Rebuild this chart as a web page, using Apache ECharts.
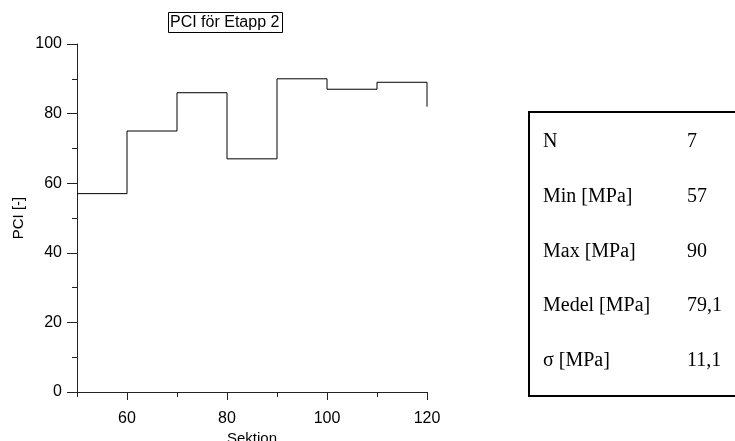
<!DOCTYPE html>
<html>
<head>
<meta charset="utf-8">
<script src="https://cdn.jsdelivr.net/npm/echarts@6/dist/echarts.min.js"></script>
<style>
html,body{margin:0;padding:0;background:#fff;}
#box{width:735px;height:441px;}
</style>
</head>
<body>
<div id="box"></div>
<script>
// sektion start + PCI per sektion (steg)
var sektion = [50, 60, 70, 80, 90, 100, 110, 120];
var pci = [57, 75, 86, 67, 90, 87, 89, 82];
var xLabels = [60, 80, 100, 120];
var xMinor = [50, 70, 90, 110];

// statistik-tabell
var statNames = ['N', 'Min [MPa]', 'Max [MPa]', 'Medel [MPa]', 'σ [MPa]'];
var statValues = ['7', '57', '90', '79,1', '11,1'];

var lineData = [];
for (var i = 0; i < sektion.length; i++) {
	lineData.push([sektion[i], pci[i]]);
}

var sans = 'Liberation Sans, Arial, sans-serif';
var serif = 'Liberation Serif, Times New Roman, serif';

// tabellen ritas som graphic
var tableEls = [{
	type: 'rect',
	shape: { x: 529, y: 112, width: 240, height: 284 },
	style: { fill: '#fff', stroke: '#000', lineWidth: 2 }
}];
for (var j = 0; j < statNames.length; j++) {
	tableEls.push({
		type: 'text', x: 543, y: 142 + j * 54.7,
		style: { text: statNames[j], font: '20px ' + serif, fill: '#000', verticalAlign: 'middle' }
	});
	tableEls.push({
		type: 'text', x: 687, y: 142 + j * 54.7,
		style: { text: statValues[j], font: '20px ' + serif, fill: '#000', verticalAlign: 'middle' }
	});
}

var myChart = echarts.init(document.getElementById('box'));
var option = {
	animation: false,
	backgroundColor: '#fff',
	title: {
		text: 'PCI för Etapp 2',
		left: 168, top: 12,
		padding: [3, 3, 2, 2],
		borderColor: '#000', borderWidth: 1,
		textStyle: { fontFamily: sans, fontSize: 16, fontWeight: 'normal', color: '#000' }
	},
	grid: { left: 77, right: 308, top: 44, bottom: 49, containLabel: false, outerBoundsMode: 'none' },
	xAxis: [{
		type: 'value', min: 50, max: 120, interval: 10,
		name: 'Sektion', nameLocation: 'middle', nameGap: 39, nameMoveOverlap: false,
		nameTextStyle: { fontFamily: sans, fontSize: 15, color: '#000' },
		axisLine: { show: true, onZero: false, lineStyle: { color: '#222', width: 1 } },
		axisTick: { show: true, customValues: xLabels, length: 8, lineStyle: { color: '#222' } },
		axisLabel: { customValues: xLabels, fontFamily: sans, fontSize: 16, color: '#000', margin: 19 },
		splitLine: { show: false }
	}, {
		type: 'value', min: 50, max: 120, interval: 10, position: 'bottom',
		axisLine: { show: false },
		axisTick: { show: true, customValues: xMinor, length: 5, lineStyle: { color: '#222' } },
		axisLabel: { show: false },
		splitLine: { show: false }
	}],
	yAxis: {
		type: 'value', min: 0, max: 100, interval: 20,
		name: 'PCI [-]', nameLocation: 'middle', nameGap: 51,
		nameTextStyle: { fontFamily: sans, fontSize: 15, color: '#000' },
		axisLine: { show: true, lineStyle: { color: '#222', width: 1 } },
		axisTick: { show: true, length: 10, lineStyle: { color: '#222' } },
		minorTick: { show: true, splitNumber: 2, length: 5, lineStyle: { color: '#222' } },
		axisLabel: { fontFamily: sans, fontSize: 16, color: '#000', margin: 15 },
		splitLine: { show: false }
	},
	graphic: tableEls,
	series: [{
		type: 'line',
		step: 'end',
		data: lineData,
		showSymbol: false,
		lineStyle: { color: '#000', width: 1 }
	}]
};
myChart.setOption(option);
</script>
</body>
</html>
